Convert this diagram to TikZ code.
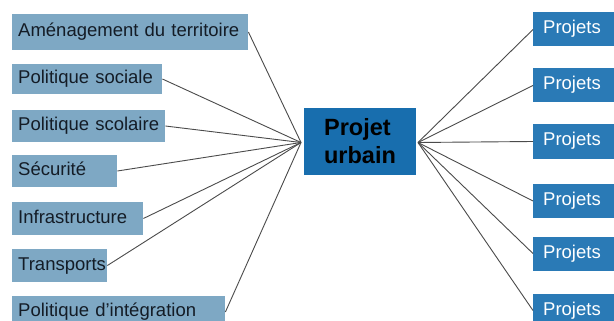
\documentclass[tikz,border=0pt]{standalone}
\usepackage{fontspec}
\setmainfont{Liberation Sans}
\definecolor{themeblue}{RGB}{126,168,196}
\definecolor{hubblue}{RGB}{24,110,174}
\definecolor{projblue}{RGB}{42,122,182}
\definecolor{edgegray}{RGB}{75,75,75}
\definecolor{textdark}{RGB}{20,28,38}

\begin{document}
\begin{tikzpicture}
        [x=1pt, y=-1pt,
        theme/.style={fill=themeblue, anchor=west, minimum height=33pt, inner xsep=6pt, inner ysep=0pt,
          text=textdark, align=left, text height=13pt, text depth=4pt, font=\fontsize{18.5}{22}\selectfont},
        projet/.style={fill=projblue, anchor=west, minimum height=34pt, inner xsep=10pt, inner ysep=0pt,
          text=white, align=left, text width=70pt, text height=13pt, text depth=4pt, font=\fontsize{18.5}{22}\selectfont},
        hub/.style={fill=hubblue, minimum width=112pt, minimum height=67pt, inner sep=0pt,
          text=black, align=left, font=\fontsize{23.5}{28}\selectfont\bfseries},
        edge/.style={edgegray, line width=0.9pt}]

        \useasboundingbox (0,0) rectangle (614,321);
        \clip (0,0) rectangle (614,321);
        \fill[white] (0,0) rectangle (614,321);

        % themes on the left
        \node[theme, text width=224pt, minimum height=36pt] (amenag) at (12, 32) {Aménagement du territoire};
        \node[theme, text width=138pt, minimum height=30pt] (social) at (12, 79) {Politique sociale};
        \node[theme, text width=141pt, minimum height=32pt] (scolaire) at (12, 126) {Politique scolaire};
        \node[theme, text width=93pt, minimum height=32pt] (securite) at (12, 171) {Sécurité};
        \node[theme, text width=119pt] (infra) at (12, 218.5) {Infrastructure};
        \node[theme, text width=83pt] (transports) at (12, 265.5) {Transports};
        \node[theme, text width=201pt] (integration) at (12, 312) {Politique d'intégration};

        % central project
        \node[hub] (urbain) at (360, 141.5) {Projet\\urbain};
        \coordinate (hubL) at (301, 142.5);
        \coordinate (hubR) at (418, 142.5);

        % projects on the right
        \node[projet] (p1) at (533, 29.5) {Projets};
        \node[projet] (p2) at (533, 85.5) {Projets};
        \node[projet] (p3) at (533, 141.5) {Projets};
        \node[projet] (p4) at (533, 201) {Projets};
        \node[projet] (p5) at (533, 253.5) {Projets};
        \node[projet] (p6) at (533, 310.5) {Projets};

        % connectors
        \draw[edge] (amenag.east) -- (hubL);
        \draw[edge] (social.east) -- (hubL);
        \draw[edge] (scolaire.east) -- (hubL);
        \draw[edge] (securite.east) -- (hubL);
        \draw[edge] (infra.east) -- (hubL);
        \draw[edge] (transports.east) -- (hubL);
        \draw[edge] (integration.east) -- (hubL);

        \draw[edge] (hubR) -- (p1.west);
        \draw[edge] (hubR) -- (p2.west);
        \draw[edge] (hubR) -- (p3.west);
        \draw[edge] (hubR) -- (p4.west);
        \draw[edge] (hubR) -- (p5.west);
        \draw[edge] (hubR) -- (p6.west);

\end{tikzpicture}
\end{document}
